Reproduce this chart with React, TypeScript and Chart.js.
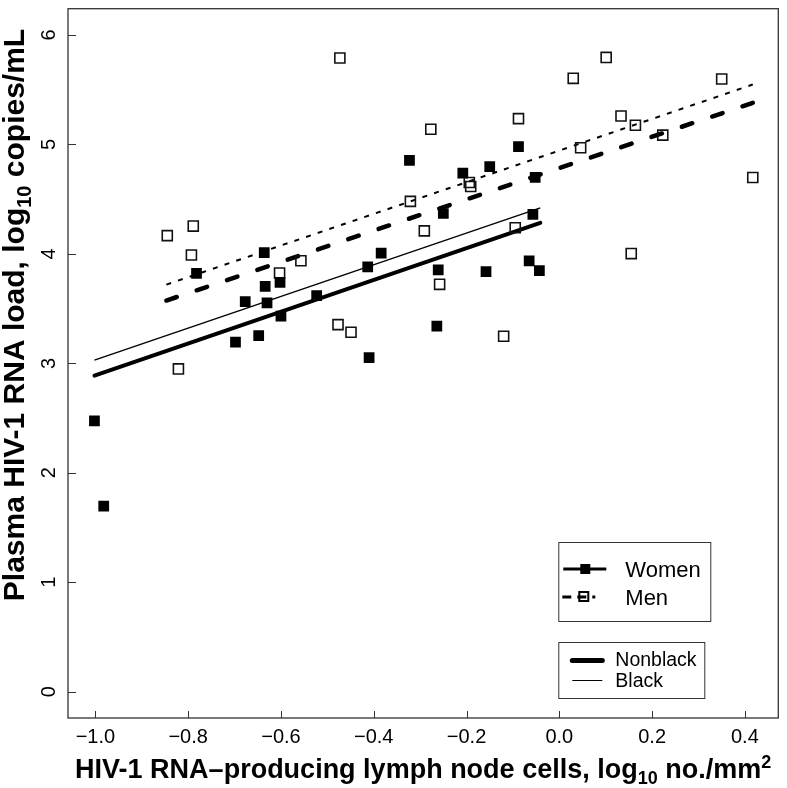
import React, { useEffect, useRef } from "react";
import { Chart, registerables } from "chart.js";

Chart.register(...registerables);

// ---- data ----
const womenX = [-1.002, -0.982, -0.698, -0.648, -0.677, -0.63, -0.634, -0.602, -0.6, -0.636, -0.782, -0.523, -0.413, -0.384, -0.41, -0.323, -0.261, -0.264, -0.25, -0.208, -0.15, -0.158, -0.088, -0.057, -0.052, -0.065, -0.043];
const womenY = [2.475, 1.695, 3.193, 3.254, 3.565, 3.553, 3.704, 3.74, 3.432, 4.012, 3.822, 3.619, 3.882, 4.006, 3.052, 4.855, 3.855, 3.341, 4.369, 4.737, 4.797, 3.837, 4.979, 4.36, 4.698, 3.937, 3.846];
const menX = [-0.845, -0.789, -0.793, -0.821, -0.603, -0.557, -0.473, -0.477, -0.449, -0.321, -0.291, -0.277, -0.258, -0.194, -0.191, -0.12, -0.095, -0.088, 0.03, 0.046, 0.101, 0.133, 0.155, 0.164, 0.223, 0.35, 0.417];
const menY = [4.167, 4.254, 3.99, 2.949, 3.825, 3.937, 5.79, 3.354, 3.284, 4.48, 4.21, 5.139, 3.722, 4.652, 4.616, 3.248, 4.239, 5.236, 5.604, 4.97, 5.795, 5.26, 4.003, 5.175, 5.085, 5.598, 4.698];

const womenLineX = [-1.002, -0.041];
const womenNonblackY = [2.888, 4.284];
const womenBlackY = [3.03, 4.42];
const menLineX = [-0.847, 0.417];
const menNonblackY = [3.574, 5.38];
const menBlackY = [3.719, 5.547];

const xTicks = [-1.0, -0.8, -0.6, -0.4, -0.2, 0.0, 0.2, 0.4];
const yTicks = [0, 1, 2, 3, 4, 5, 6];
const xRange = [-1.059, 0.472];
const yRange = [-0.24, 6.24];

const xTitleParts = [
  { t: "HIV-1 RNA\u2013producing lymph node cells, log", k: "n" },
  { t: "10", k: "sub" },
  { t: " no./mm", k: "n" },
  { t: "2", k: "sup" },
];
const yTitleParts = [
  { t: "Plasma HIV-1 RNA load, log", k: "n" },
  { t: "10", k: "sub" },
  { t: " copies/mL", k: "n" },
];
const legendSex = ["Women", "Men"];
const legendRace = ["Nonblack", "Black"];

const FONT = '"Liberation Sans", Arial, Helvetica, sans-serif';

const pts = (xs: number[], ys: number[]) => xs.map((x, i) => ({ x, y: ys[i] }));

function drawRich(ctx: CanvasRenderingContext2D, parts: { t: string; k: string }[], cx: number, y: number, size: number) {
  const fontFor = (k: string) => `bold ${k === "n" ? size : Math.round(size * 0.68)}px ${FONT}`;
  let total = 0;
  for (const p of parts) {
    ctx.font = fontFor(p.k);
    total += ctx.measureText(p.t).width;
  }
  let x = cx - total / 2;
  ctx.textAlign = "left";
  ctx.textBaseline = "alphabetic";
  for (const p of parts) {
    ctx.font = fontFor(p.k);
    const dy = p.k === "sub" ? size * 0.22 : p.k === "sup" ? -size * 0.36 : 0;
    ctx.fillText(p.t, x, y + dy);
    x += ctx.measureText(p.t).width;
  }
}

const decor = {
  id: "decor",
  beforeDraw(chart: any) {
    const ctx = chart.ctx;
    ctx.save();
    ctx.fillStyle = "#fff";
    ctx.fillRect(0, 0, chart.width, chart.height);
    ctx.restore();
  },
  afterDraw(chart: any) {
    const ctx: CanvasRenderingContext2D = chart.ctx;
    const a = chart.chartArea;
    const xs = chart.scales.x;
    const ys = chart.scales.y;
    ctx.save();
    // frame
    ctx.strokeStyle = "#333";
    ctx.lineWidth = 1.3;
    ctx.strokeRect(a.left, a.top, a.right - a.left, a.bottom - a.top);
    // ticks (inward)
    ctx.beginPath();
    for (const v of xTicks) {
      const px = Math.round(xs.getPixelForValue(v)) + 0.5;
      ctx.moveTo(px, a.bottom);
      ctx.lineTo(px, a.bottom - 7);
    }
    for (const v of yTicks) {
      const py = Math.round(ys.getPixelForValue(v)) + 0.5;
      ctx.moveTo(a.left, py);
      ctx.lineTo(a.left + 8, py);
    }
    ctx.lineWidth = 1;
    ctx.stroke();
    // tick labels
    ctx.fillStyle = "#000";
    ctx.font = `20px ${FONT}`;
    ctx.textAlign = "center";
    ctx.textBaseline = "alphabetic";
    for (const v of xTicks) {
      const lab = v.toFixed(1).replace("-", "\u2212");
      ctx.fillText(lab, xs.getPixelForValue(v), a.bottom + 25);
    }
    for (const v of yTicks) {
      ctx.save();
      ctx.translate(a.left - 13, ys.getPixelForValue(v));
      ctx.rotate(-Math.PI / 2);
      ctx.textAlign = "center";
      ctx.fillText(String(v), 0, 0);
      ctx.restore();
    }
    // axis titles
    drawRich(ctx, xTitleParts, (a.left + a.right) / 2, a.bottom + 60, 27);
    ctx.save();
    ctx.translate(24, 315);
    ctx.rotate(-Math.PI / 2);
    drawRich(ctx, yTitleParts, 0, 0, 30);
    ctx.restore();

    // legend box 1 (sex)
    const bx = a.right - 220;
    ctx.strokeStyle = "#333";
    ctx.lineWidth = 1;
    ctx.strokeRect(bx + 0.5, 542.5, 152, 79);
    ctx.strokeStyle = "#000";
    ctx.lineCap = "butt";
    // Women
    ctx.lineWidth = 3;
    ctx.beginPath();
    ctx.moveTo(bx + 5, 569);
    ctx.lineTo(bx + 48, 569);
    ctx.stroke();
    ctx.fillStyle = "#000";
    ctx.fillRect(bx + 22, 564, 10, 10);
    // Men
    ctx.setLineDash([9, 6]);
    ctx.beginPath();
    ctx.moveTo(bx + 4, 597);
    ctx.lineTo(bx + 37, 597);
    ctx.stroke();
    ctx.setLineDash([]);
    ctx.lineWidth = 2;
    ctx.strokeRect(bx + 21, 592, 9, 9);
    ctx.font = `22px ${FONT}`;
    ctx.textAlign = "left";
    ctx.textBaseline = "alphabetic";
    ctx.fillText(legendSex[0], bx + 67, 577);
    ctx.fillText(legendSex[1], bx + 67, 605);

    // legend box 2 (race)
    ctx.strokeStyle = "#333";
    ctx.lineWidth = 1;
    ctx.strokeRect(bx + 0.5, 642.5, 146, 56);
    ctx.strokeStyle = "#000";
    ctx.lineCap = "round";
    ctx.lineWidth = 5;
    ctx.beginPath();
    ctx.moveTo(bx + 14, 660.5);
    ctx.lineTo(bx + 44, 660.5);
    ctx.stroke();
    ctx.lineWidth = 1;
    ctx.lineCap = "butt";
    ctx.beginPath();
    ctx.moveTo(bx + 14, 680.5);
    ctx.lineTo(bx + 44, 680.5);
    ctx.stroke();
    ctx.font = `19.5px ${FONT}`;
    ctx.fillText(legendRace[0], bx + 57, 665.5);
    ctx.fillText(legendRace[1], bx + 57, 687);
    ctx.restore();
  },
};

export default function App() {
  const ref = useRef<HTMLCanvasElement | null>(null);
  useEffect(() => {
    const canvas = ref.current;
    if (!canvas) return;
    const lineBase = { showLine: true, pointRadius: 0, borderColor: "#000", backgroundColor: "#000", fill: false, order: 2 };
    const chart = new Chart(canvas, {
      type: "scatter",
      data: {
        datasets: [
          { label: "Women", data: pts(womenX, womenY), pointStyle: "rect", pointRadius: 7.6, backgroundColor: "#000", borderWidth: 0, order: 0 },
          { label: "Men", data: pts(menX, menY), pointStyle: "rect", pointRadius: 7.1, backgroundColor: "rgba(0,0,0,0)", borderColor: "#111", borderWidth: 1.6, order: 1 },
          { ...lineBase, label: "Women nonblack", data: pts(womenLineX, womenNonblackY), borderWidth: 4, borderCapStyle: "round" },
          { ...lineBase, label: "Women black", data: pts(womenLineX, womenBlackY), borderWidth: 1.4 },
          { ...lineBase, label: "Men nonblack", data: pts(menLineX, menNonblackY), borderWidth: 4.5, borderCapStyle: "round", borderDash: [11, 21] },
          { ...lineBase, label: "Men black", data: pts(menLineX, menBlackY), borderWidth: 2, borderDash: [5, 7.3] },
        ] as any,
      },
      options: {
        animation: false,
        responsive: false,
        devicePixelRatio: 1,
        events: [],
        layout: { padding: { top: 3, right: 4, left: 0, bottom: 0 } },
        plugins: { legend: { display: false }, tooltip: { enabled: false } },
        scales: {
          x: {
            type: "linear",
            min: xRange[0],
            max: xRange[1],
            ticks: { display: false },
            grid: { display: false },
            border: { display: false },
            afterFit: (s: any) => { s.height = 70; },
          },
          y: {
            type: "linear",
            min: yRange[0],
            max: yRange[1],
            ticks: { display: false },
            grid: { display: false },
            border: { display: false },
            afterFit: (s: any) => { s.width = 68; },
          },
        },
      } as any,
      plugins: [decor],
    });
    return () => chart.destroy();
  }, []);
  return (
    <div style={{ position: "fixed", left: 0, top: 0, width: 787, height: 788, background: "#fff" }}>
      <canvas ref={ref} width={787} height={788} style={{ width: 787, height: 788, display: "block" }} />
    </div>
  );
}
